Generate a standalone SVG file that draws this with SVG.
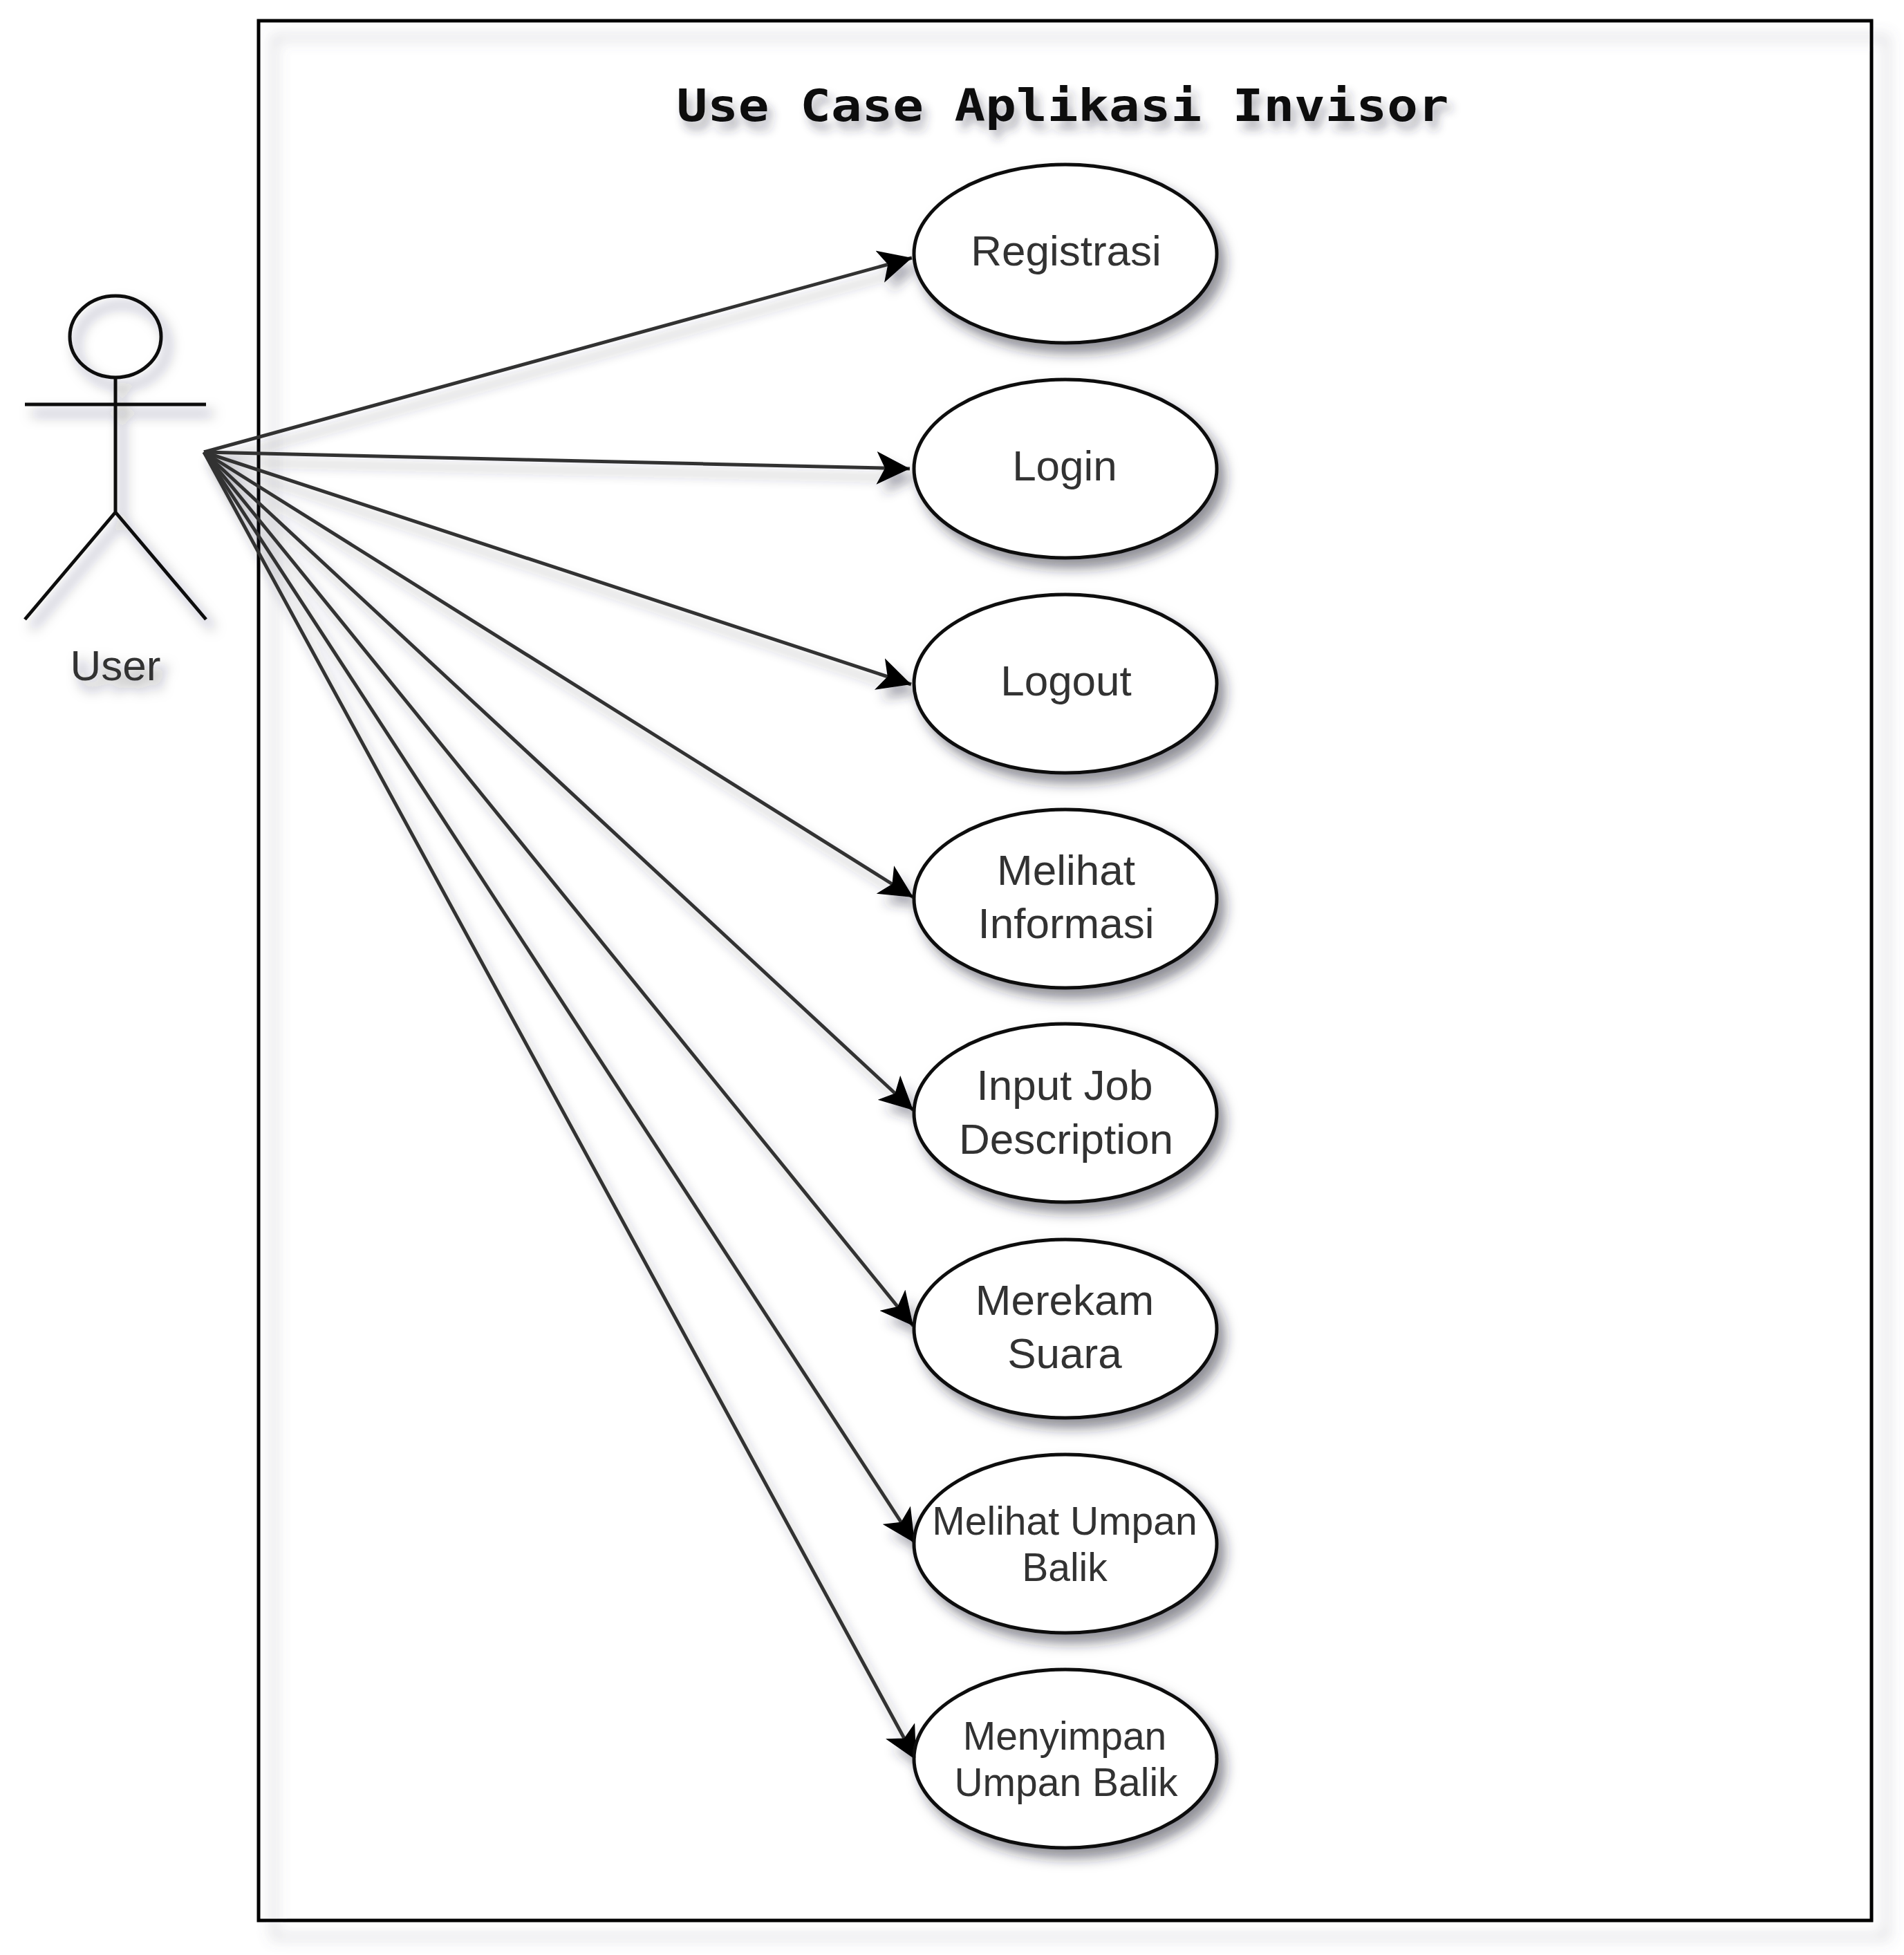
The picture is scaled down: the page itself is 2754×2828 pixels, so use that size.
<svg xmlns="http://www.w3.org/2000/svg" width="2754" height="2828" viewBox="0 0 2754 2828">
<style>
.lbl{font-family:"Liberation Sans",Arial,sans-serif;font-size:62px;fill:#333;text-anchor:middle}
.sm{font-size:57px}
.uc{fill:#fff;stroke:#111;stroke-width:5}
.act{fill:none;stroke:#111;stroke-width:5}
.conn{stroke:#333;stroke-width:5;fill:none;marker-end:url(#arrow)}
</style>
<defs>
<filter id="sBox" filterUnits="userSpaceOnUse" x="0" y="0" width="2754" height="2828"><feDropShadow dx="22" dy="24" stdDeviation="10" flood-color="#667" flood-opacity=".4"/></filter>
<filter id="sNode" filterUnits="userSpaceOnUse" x="0" y="0" width="2754" height="2828"><feDropShadow dx="10" dy="13" stdDeviation="9" flood-color="#223" flood-opacity=".5"/></filter>
<filter id="sConn" filterUnits="userSpaceOnUse" x="0" y="0" width="2754" height="2828"><feDropShadow dx="9" dy="14" stdDeviation="8" flood-color="#334" flood-opacity=".4"/></filter>
<filter id="sText" filterUnits="userSpaceOnUse" x="0" y="0" width="2754" height="2828"><feDropShadow dx="7" dy="12" stdDeviation="7" flood-color="#334" flood-opacity=".4"/></filter>
<marker id="arrow" markerUnits="userSpaceOnUse" markerWidth="50" markerHeight="48" viewBox="0 0 50 48" refX="48" refY="24" orient="auto"><path d="M0,0 L48,24 L0,48 L12,24 Z" fill="#000"/></marker>
</defs>
<rect width="2754" height="2828" fill="#fff"/>
<g id="boundary" filter="url(#sBox)"><rect x="374" y="30" width="2333" height="2748" fill="none" stroke="#000" stroke-width="5"/></g>
<g id="title" filter="url(#sText)"><text x="1537" y="175" font-family="'DejaVu Sans Mono','Liberation Mono',monospace" font-weight="bold" font-size="64" text-anchor="middle" textLength="1117" lengthAdjust="spacingAndGlyphs" fill="#111">Use Case Aplikasi Invisor</text></g>
<g id="connectors" filter="url(#sConn)">
<line class="conn" x1="295" y1="654" x2="1319" y2="373"/>
<line class="conn" x1="295" y1="654" x2="1316" y2="678"/>
<line class="conn" x1="295" y1="654" x2="1318" y2="990"/>
<line class="conn" x1="295" y1="654" x2="1321" y2="1298"/>
<line class="conn" x1="295" y1="654" x2="1321" y2="1606"/>
<line class="conn" x1="295" y1="654" x2="1321" y2="1918"/>
<line class="conn" x1="295" y1="654" x2="1323" y2="2232"/>
<line class="conn" x1="295" y1="654" x2="1325" y2="2546"/>
</g>
<g id="actor" filter="url(#sNode)">
<ellipse class="act" cx="167" cy="487" rx="66" ry="59"/>
<path class="act" d="M167,546 V741 M36,585 H298 M36,896 L167,741 L298,896"/>
<text class="lbl" x="167" y="984">User</text>
</g>
<g id="uc1" filter="url(#sNode)"><ellipse class="uc" cx="1541" cy="367" rx="219" ry="129"/><text class="lbl" x="1542" y="384">Registrasi</text></g>
<g id="uc2" filter="url(#sNode)"><ellipse class="uc" cx="1541" cy="678" rx="219" ry="129"/><text class="lbl" x="1540" y="695">Login</text></g>
<g id="uc3" filter="url(#sNode)"><ellipse class="uc" cx="1541" cy="989" rx="219" ry="129"/><text class="lbl" x="1542" y="1006">Logout</text></g>
<g id="uc4" filter="url(#sNode)"><ellipse class="uc" cx="1541" cy="1300" rx="219" ry="129"/><text class="lbl" x="1542" y="1280">Melihat</text><text class="lbl" x="1542" y="1357">Informasi</text></g>
<g id="uc5" filter="url(#sNode)"><ellipse class="uc" cx="1541" cy="1610" rx="219" ry="129"/><text class="lbl" x="1540" y="1591">Input Job</text><text class="lbl" x="1542" y="1669">Description</text></g>
<g id="uc6" filter="url(#sNode)"><ellipse class="uc" cx="1541" cy="1922" rx="219" ry="129"/><text class="lbl" x="1540" y="1902">Merekam</text><text class="lbl" x="1540" y="1979">Suara</text></g>
<g id="uc7" filter="url(#sNode)"><ellipse class="uc" cx="1541" cy="2233" rx="219" ry="129"/><text class="lbl sm" x="1540" y="2220">Melihat Umpan</text><text class="lbl sm" x="1540" y="2287">Balik</text></g>
<g id="uc8" filter="url(#sNode)"><ellipse class="uc" cx="1541" cy="2544" rx="219" ry="129"/><text class="lbl sm" x="1540" y="2531">Menyimpan</text><text class="lbl sm" x="1542" y="2598">Umpan Balik</text></g>
</svg>
